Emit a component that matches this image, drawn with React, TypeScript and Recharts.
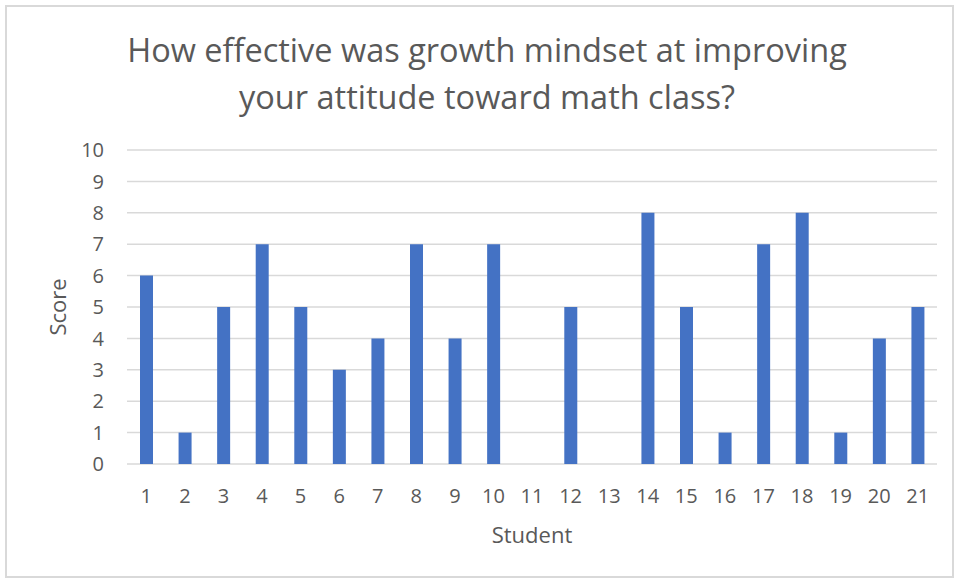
import React from "react";
import { BarChart, Bar, XAxis, YAxis, CartesianGrid } from "recharts";

const students = ["1","2","3","4","5","6","7","8","9","10","11","12","13","14","15","16","17","18","19","20","21"];
const scores = [6,1,5,7,5,3,4,7,4,7,0,5,0,8,5,1,7,8,1,4,5];
const yTicks = [0,1,2,3,4,5,6,7,8,9,10];
const titleLines = ["How effective was growth mindset at improving", "your attitude toward math class?"];

const data = students.map((s, i) => ({ student: s, score: scores[i] }));

const FONT = "'Open Sans', 'Noto Sans', sans-serif";
const GRAY = "#595959";

export default function App() {
  return (
    <div style={{ position: "absolute", left: 0, top: 0, width: 958, height: 580, background: "#fff", fontFamily: FONT }}>
      <div style={{ position: "absolute", left: 5, top: 5, width: 945, height: 569, border: "2px solid #d9d9d9" }} />
      {titleLines.map((t, i) => (
        <div key={i} style={{ position: "absolute", left: 0, width: 974, top: 27 + i * 47, textAlign: "center", fontSize: 32.5, lineHeight: "46px", color: GRAY }}>{t}</div>
      ))}
      <div style={{ position: "absolute", left: 0, top: 0 }}>
        <BarChart width={958} height={580} data={data} margin={{ top: 150, right: 21, bottom: 36, left: 0 }}>
          <CartesianGrid vertical={false} stroke="#d9d9d9" strokeWidth={1.5} />
          <XAxis
            dataKey="student"
            axisLine={false}
            tickLine={false}
            tickSize={0}
            tickMargin={25}
            height={80}
            interval={0}
            tick={{ fill: GRAY, fontSize: 20, fontFamily: FONT }}
            label={{
              content: (props: any) => {
                const vb = props.viewBox;
                return (
                  <text x={vb.x + vb.width / 2} y={vb.y + 70} textAnchor="middle" dominantBaseline="central" fill={GRAY} fontSize={22} fontFamily={FONT}>Student</text>
                );
              },
            }}
          />
          <YAxis
            domain={[0, 10]}
            ticks={yTicks}
            axisLine={false}
            tickLine={false}
            tickSize={0}
            tickMargin={23}
            width={127}
            interval={0}
            tick={{ fill: GRAY, fontSize: 20, fontFamily: FONT }}
            label={{
              content: (props: any) => {
                const vb = props.viewBox;
                const cx = vb.x + 57;
                const cy = vb.y + vb.height / 2;
                return (
                  <text x={cx} y={cy} textAnchor="middle" dominantBaseline="central" transform={`rotate(-90 ${cx} ${cy})`} fill={GRAY} fontSize={22} fontFamily={FONT}>Score</text>
                );
              },
            }}
          />
          <Bar dataKey="score" fill="#4472C4" barSize={13} isAnimationActive={false} />
        </BarChart>
      </div>
    </div>
  );
}
